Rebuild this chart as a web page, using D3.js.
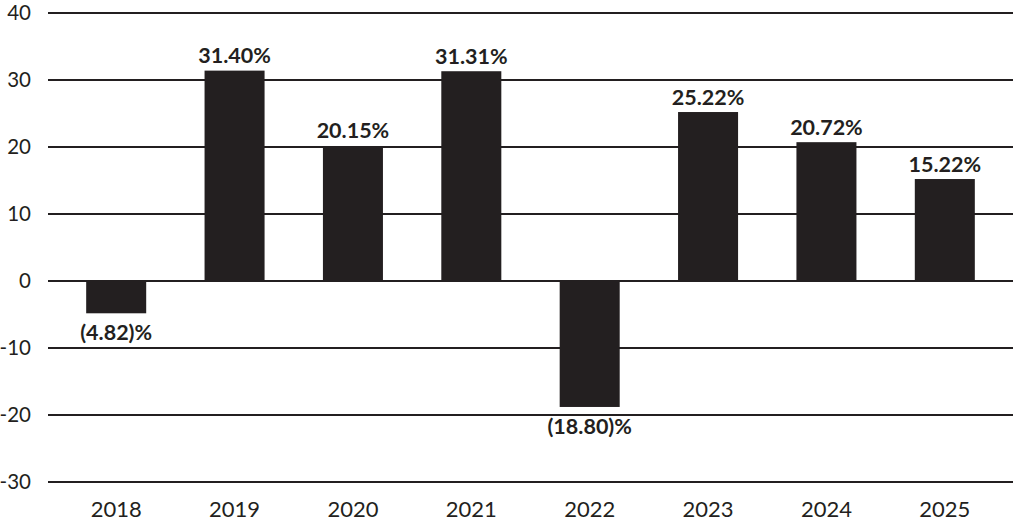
<!DOCTYPE html>
<html>
<head>
<meta charset="utf-8">
<script src="https://cdn.jsdelivr.net/npm/d3@7"></script>
<style>
  html, body { margin: 0; padding: 0; background: #fff; }
  svg { display: block; }
  text { font-family: "Lato", "DejaVu Sans", sans-serif; fill: #231f20; }
</style>
</head>
<body>
<svg id="main_chart" width="1013" height="522"></svg>
<script>
// CHART DATA
const years = ['2018', '2019', '2020', '2021', '2022', '2023', '2024', '2025'];
const returns = [-4.82, 31.40, 20.15, 31.31, -18.80, 25.22, 20.72, 15.22];
const y_ticks = [-30, -20, -10, 0, 10, 20, 30, 40];

(function() {
  const svg = d3.select('#main_chart');
  const ink = '#231f20';

  // SCALES
  const xScale = d3.scaleBand().domain(years).range([57, 1004]).paddingInner(0.493).paddingOuter(0.2465);
  const yScale = d3.scaleLinear().domain([-30, 40]).range([482, 13]);

  // GRIDLINES
  svg.selectAll('line.grid').data(y_ticks).enter().append('line')
    .attr('class', 'grid')
    .attr('x1', 48).attr('x2', 1013)
    .attr('y1', d => yScale(d)).attr('y2', d => yScale(d))
    .attr('stroke', ink).attr('stroke-width', 2);

  // Y LABELS
  svg.selectAll('text.y_label').data(y_ticks).enter().append('text')
    .attr('class', 'y_label')
    .attr('x', 31).attr('y', d => yScale(d))
    .attr('dy', '0.35em')
    .attr('text-anchor', 'end')
    .style('font-size', '20.5px')
    .text(d => d);

  // BARS
  const bars = years.map((y, i) => ({ year: y, value: returns[i] }));
  svg.selectAll('rect.bar').data(bars).enter().append('rect')
    .attr('class', 'bar')
    .attr('x', d => xScale(d.year))
    .attr('width', xScale.bandwidth())
    .attr('y', d => yScale(Math.max(0, d.value)))
    .attr('height', d => Math.abs(yScale(d.value) - yScale(0)))
    .attr('fill', ink);

  // VALUE LABELS
  const fmt = v => v < 0 ? `(${Math.abs(v).toFixed(2)})%` : `${v.toFixed(2)}%`;
  svg.selectAll('text.val').data(bars).enter().append('text')
    .attr('class', 'val')
    .attr('x', d => xScale(d.year) + xScale.bandwidth() / 2)
    .attr('y', d => d.value >= 0 ? yScale(d.value) - 7.5 : yScale(d.value) + 27)
    .attr('text-anchor', 'middle')
    .style('font-size', '21.5px')
    .style('font-weight', 'bold')
    .text(d => fmt(d.value));

  // X LABELS
  svg.selectAll('text.x_label').data(years).enter().append('text')
    .attr('class', 'x_label')
    .attr('x', d => xScale(d) + xScale.bandwidth() / 2)
    .attr('y', 517)
    .attr('text-anchor', 'middle')
    .style('font-size', '22px')
    .text(d => d);
})();
</script>
</body>
</html>
